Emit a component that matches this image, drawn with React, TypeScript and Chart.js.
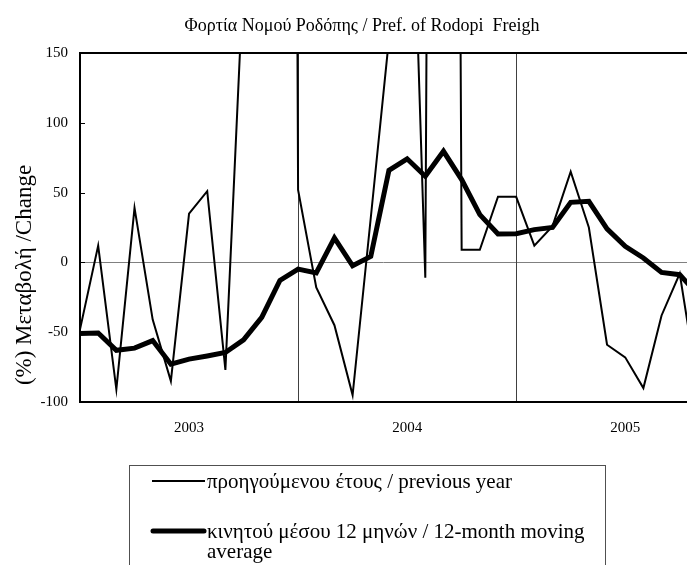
import React, { useEffect, useRef } from "react";
import { Chart, registerables } from "chart.js";

Chart.register(...registerables);

const months: string[] = [
  "2003-01", "2003-02", "2003-03", "2003-04", "2003-05", "2003-06", "2003-07", "2003-08", "2003-09", "2003-10", "2003-11", "2003-12",
  "2004-01", "2004-02", "2004-03", "2004-04", "2004-05", "2004-06", "2004-07", "2004-08", "2004-09", "2004-10", "2004-11", "2004-12",
  "2005-01", "2005-02", "2005-03", "2005-04", "2005-05", "2005-06", "2005-07", "2005-08", "2005-09", "2005-10", "2005-11",
];

const previousYear: number[] = [
  -48, 12, -91, 39, -41, -85, 35, 51, -77, 207, 600, 3000,
  52, -18, -45, -95, 32, 160, 400, -11, 2500, 9, 9, 47,
  47, 12, 26, 65, 25, -59, -68, -90, -38, -8, -90,
];

const movingAverage: number[] = [
  -51, -50.6, -63, -61.4, -56, -72.9, -69.3, -67, -64.5, -55.5, -39.4, -12.9,
  -4.8, -7.6, 17.5, -2.4, 4.3, 66, 74.2, 61.7, 79.6, 59.3, 34.2, 20.4,
  20.6, 23.5, 25.1, 43, 43.8, 24, 11.5, 3.2, -7.2, -8.8, -23,
];

const yearLabels: string[] = ["2003", "2004", "2005"];
const yearLabelPositions: number[] = [6, 18, 30];
const yearSeparators: number[] = [12, 24];
const yTicks: number[] = [-100, -50, 0, 50, 100, 150];

const title = "Φορτία Νομού Ροδόπης / Pref. of Rodopi  Freigh";
const yTitle = "(%) Μεταβολή /Change";
const seriesNames: string[] = [
  "προηγούμενου έτους / previous year",
  "κινητού μέσου 12 μηνών / 12-month moving",
  "average",
];

const FONT = "'Liberation Serif', 'Times New Roman', serif";

const decorPlugin = {
  id: "decor",
  beforeDatasetsDraw(chart: any) {
    const { ctx, chartArea, scales } = chart;
    const x = scales.x;
    const y = scales.y;
    ctx.save();
    ctx.strokeStyle = "#808080";
    ctx.lineWidth = 1;
    const y0 = Math.round(y.getPixelForValue(0)) + 0.5;
    ctx.beginPath();
    ctx.moveTo(chartArea.left, y0);
    ctx.lineTo(chartArea.right, y0);
    ctx.stroke();
    ctx.strokeStyle = "#404040";
    yearSeparators.forEach((v) => {
      const px = Math.round(x.getPixelForValue(v)) + 0.5;
      ctx.beginPath();
      ctx.moveTo(px, chartArea.top);
      ctx.lineTo(px, chartArea.bottom);
      ctx.stroke();
    });
    ctx.strokeStyle = "#000";
    yTicks.forEach((v) => {
      const py = Math.round(y.getPixelForValue(v)) + 0.5;
      ctx.beginPath();
      ctx.moveTo(chartArea.left, py);
      ctx.lineTo(chartArea.left + 5, py);
      ctx.stroke();
    });
    ctx.restore();
  },
  afterDraw(chart: any) {
    const { ctx, chartArea } = chart;
    ctx.save();
    ctx.strokeStyle = "#000";
    ctx.lineWidth = 2;
    ctx.beginPath();
    ctx.moveTo(chartArea.right, chartArea.top);
    ctx.lineTo(chartArea.left, chartArea.top);
    ctx.lineTo(chartArea.left, chartArea.bottom);
    ctx.lineTo(chartArea.right, chartArea.bottom);
    ctx.stroke();

    ctx.fillStyle = "#000";
    ctx.textAlign = "center";
    ctx.textBaseline = "middle";
    ctx.font = `18px ${FONT}`;
    ctx.fillText(title, 362, 26);

    ctx.save();
    ctx.translate(25, 275);
    ctx.rotate(-Math.PI / 2);
    ctx.font = `23px ${FONT}`;
    ctx.fillText(yTitle, 0, 0);
    ctx.restore();

    ctx.strokeStyle = "#505050";
    ctx.lineWidth = 1;
    ctx.strokeRect(129.5, 465.5, 476, 200);
    ctx.strokeStyle = "#000";
    ctx.lineCap = "butt";
    ctx.lineWidth = 2;
    ctx.beginPath();
    ctx.moveTo(152, 481);
    ctx.lineTo(205, 481);
    ctx.stroke();
    ctx.lineCap = "round";
    ctx.lineWidth = 5;
    ctx.beginPath();
    ctx.moveTo(153, 531);
    ctx.lineTo(204, 531);
    ctx.stroke();
    ctx.textAlign = "left";
    ctx.textBaseline = "alphabetic";
    ctx.font = `21px ${FONT}`;
    ctx.fillText(seriesNames[0], 207, 488);
    ctx.fillText(seriesNames[1], 207, 538);
    ctx.fillText(seriesNames[2], 207, 558);
    ctx.restore();
  },
};

export default function App() {
  const ref = useRef<HTMLCanvasElement | null>(null);
  useEffect(() => {
    if (!ref.current) return;
    const chart = new Chart(ref.current, {
      type: "line",
      data: {
        datasets: [
          {
            label: seriesNames[0],
            data: previousYear.map((v, i) => ({ x: i, y: v })),
            borderColor: "#000",
            borderWidth: 2,
            pointRadius: 0,
            tension: 0,
            fill: false,
          },
          {
            label: seriesNames[1] + " " + seriesNames[2],
            data: movingAverage.map((v, i) => ({ x: i, y: v })),
            borderColor: "#000",
            borderWidth: 5,
            pointRadius: 0,
            tension: 0,
            fill: false,
          },
        ],
      },
      options: {
        animation: false,
        responsive: false,
        devicePixelRatio: 1,
        layout: { padding: { left: 0, right: 0, top: 53, bottom: 0 } },
        plugins: {
          legend: { display: false },
          title: { display: false },
          tooltip: { enabled: false },
        },
        scales: {
          x: {
            type: "linear",
            min: 0,
            max: 33.4,
            grid: { display: false, drawTicks: false },
            border: { display: false },
            afterBuildTicks: (scale: any) => {
              scale.ticks = yearLabelPositions.map((v) => ({ value: v }));
            },
            afterFit: (scale: any) => {
              scale.height = 163;
            },
            ticks: {
              autoSkip: false,
              maxRotation: 0,
              padding: 17,
              color: "#000",
              font: { family: FONT, size: 15 },
              callback: (value: any) => {
                const idx = yearLabelPositions.indexOf(Number(value));
                return idx >= 0 ? yearLabels[idx] : "";
              },
            },
          },
          y: {
            type: "linear",
            min: -100,
            max: 150,
            grid: { display: false, drawTicks: false },
            border: { display: false },
            afterBuildTicks: (scale: any) => {
              scale.ticks = yTicks.map((v) => ({ value: v }));
            },
            afterFit: (scale: any) => {
              scale.width = 80;
            },
            ticks: {
              padding: 12,
              color: "#000",
              font: { family: FONT, size: 15 },
            },
          },
        },
      },
      plugins: [decorPlugin],
    });
    return () => chart.destroy();
  }, []);
  return (
    <div style={{ position: "absolute", left: 0, top: 0, width: 687, height: 565, overflow: "hidden", background: "#fff" }}>
      <canvas ref={ref} width={687} height={565} />
    </div>
  );
}
